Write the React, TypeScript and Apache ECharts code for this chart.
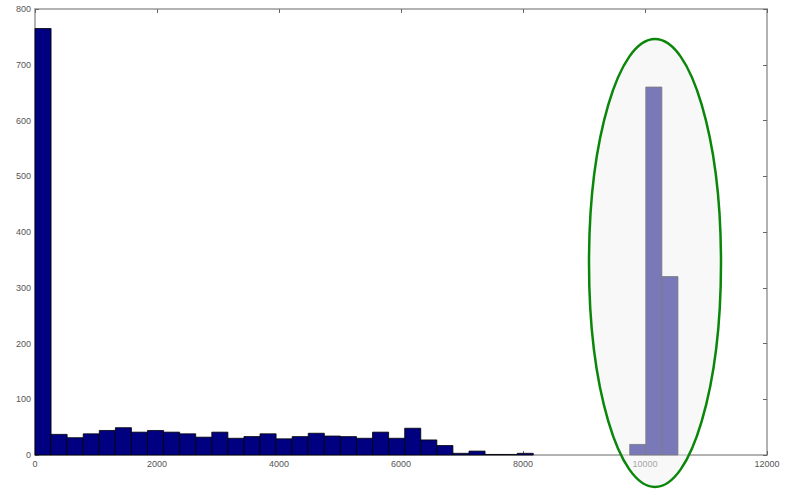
import React, { useEffect, useRef } from "react";
import * as echarts from "echarts";

// Histogram: 40 equal bins starting at 0
const binStart = 0;
const binWidth = 263.5;
const counts = [
  765, 37, 31, 38, 44, 49, 41, 44, 41, 38, 32, 41, 30, 33, 38, 29, 33, 39, 34, 33,
  30, 41, 30, 48, 27, 17, 3, 7, 1, 1, 3, 0, 0, 0, 0, 0, 0, 19, 660, 320,
];
const xTicks = [0, 2000, 4000, 6000, 8000, 10000, 12000];
const yTicks = [0, 100, 200, 300, 400, 500, 600, 700, 800];

export default function App() {
  const ref = useRef<HTMLDivElement>(null);
  useEffect(() => {
    if (!ref.current) return;
    const chart = echarts.init(ref.current, undefined, { renderer: "svg" });
    const data = counts.map((c, i) => [
      binStart + i * binWidth,
      binStart + (i + 1) * binWidth,
      c,
    ]);
    const labelStyle = {
      color: "#555",
      fontSize: 9,
      fontFamily: "Liberation Sans, Arial, sans-serif",
      formatter: (v: number) => String(v),
    };
    const axisLine = { show: true, onZero: false, lineStyle: { color: "#999", width: 1.5 } };
    const tick = { show: true, inside: true, length: 4, lineStyle: { color: "#666" } };
    chart.setOption({
      animation: false,
      backgroundColor: "#fff",
      grid: { left: 35, right: 20, top: 9, bottom: 36 },
      xAxis: [
        {
          type: "value",
          min: xTicks[0],
          max: xTicks[xTicks.length - 1],
          interval: 2000,
          axisLine,
          axisTick: tick,
          axisLabel: { ...labelStyle, margin: 4 },
          splitLine: { show: false },
        },
        {
          type: "value",
          position: "top",
          min: xTicks[0],
          max: xTicks[xTicks.length - 1],
          interval: 2000,
          axisLine,
          axisTick: tick,
          axisLabel: { show: false },
          splitLine: { show: false },
        },
      ],
      yAxis: [
        {
          type: "value",
          min: yTicks[0],
          max: yTicks[yTicks.length - 1],
          interval: 100,
          axisLine,
          axisTick: tick,
          axisLabel: { ...labelStyle, margin: 4 },
          splitLine: { show: false },
        },
        {
          type: "value",
          position: "right",
          min: yTicks[0],
          max: yTicks[yTicks.length - 1],
          interval: 100,
          axisLine,
          axisTick: tick,
          axisLabel: { show: false },
          splitLine: { show: false },
        },
      ],
      series: [
        {
          type: "custom",
          xAxisIndex: 0,
          yAxisIndex: 0,
          encode: { x: [0, 1], y: 2 },
          data,
          renderItem: (params: any, api: any) => {
            const v = api.value(2);
            if (v <= 0) return null;
            const p0 = api.coord([api.value(0), 0]);
            const p1 = api.coord([api.value(1), v]);
            return {
              type: "rect",
              shape: {
                x: p0[0],
                y: p1[1],
                width: p1[0] - p0[0],
                height: p0[1] - p1[1],
              },
              style: { fill: "#000080", stroke: "#000", lineWidth: 0.8 },
            };
          },
        },
      ],
      graphic: [
        {
          type: "ellipse",
          z: 100,
          shape: { cx: 655, cy: 263, rx: 66, ry: 224 },
          style: {
            fill: "rgba(242,242,242,0.5)",
            stroke: "#0a870a",
            lineWidth: 2.5,
          },
        },
      ],
    });
    return () => chart.dispose();
  }, []);
  return (
    <div
      ref={ref}
      style={{ position: "absolute", left: 0, top: 0, width: 787, height: 491 }}
    />
  );
}
